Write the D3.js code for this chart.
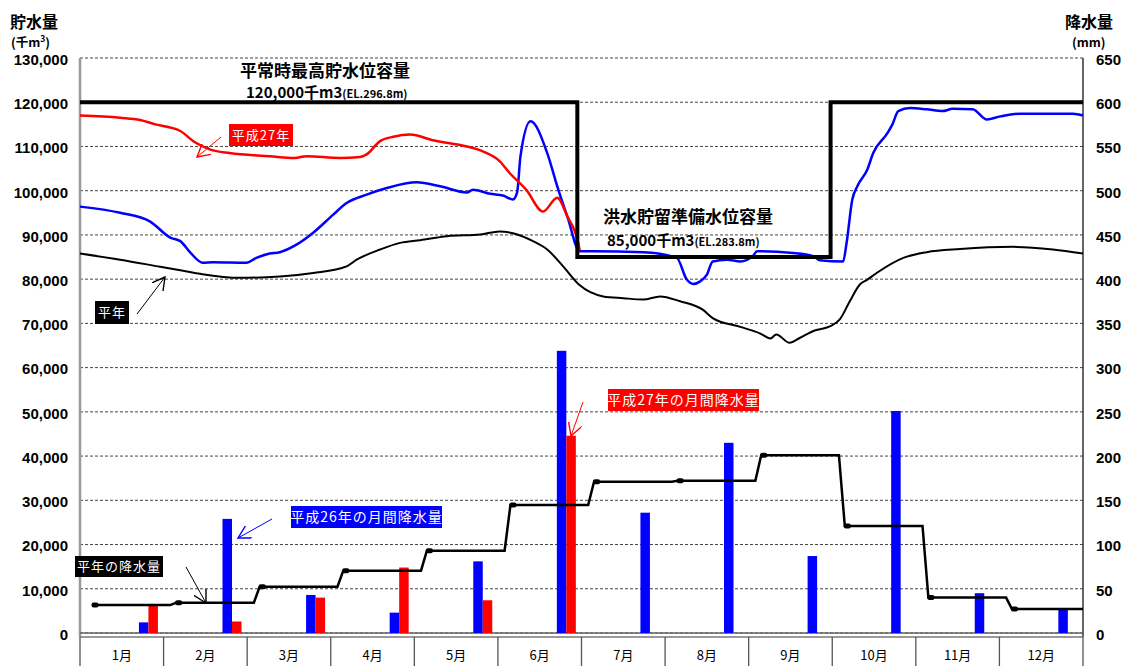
<!DOCTYPE html>
<html><head><meta charset="utf-8">
<script src="https://cdn.jsdelivr.net/npm/d3@7"></script>
<style>
html,body{margin:0;padding:0;background:#fff;}
svg{display:block;font-family:"Liberation Sans","Noto Sans CJK JP",sans-serif;}
.jp{font-family:"Noto Sans CJK JP","Liberation Sans",sans-serif;}
</style></head>
<body>
<svg id="c" width="1126" height="666"></svg>
<script>
// ---------- DATA ----------
const months = ["1月","2月","3月","4月","5月","6月","7月","8月","9月","10月","11月","12月"];
const storageTicks = [0,10000,20000,30000,40000,50000,60000,70000,80000,90000,100000,110000,120000,130000];
const rainTicks = [0,50,100,150,200,250,300,350,400,450,500,550,600,650];

// positions along the year in month units (0 = 1 Jan, 12 = 31 Dec)
const h27StorageT = [0,0.48,0.72,0.90,1.08,1.20,1.37,1.56,1.79,2.27,2.57,2.71,3.11,3.35,3.43,3.59,3.75,3.95,4.22,4.63,4.82,5.02,5.14,5.34,5.54,5.71,5.83,5.96,5.98];
const h27StorageV = [117000,116500,116000,115000,114300,113500,111000,109300,108500,107800,107400,107800,107400,107600,108200,111200,112200,112700,111400,110000,108900,106700,104000,100200,95300,98400,94200,88300,86500];

const h26StorageT = [0,0.48,0.84,1.08,1.20,1.32,1.47,1.59,1.99,2.11,2.27,2.39,2.59,2.79,3.03,3.19,3.43,3.67,4.03,4.31,4.63,4.70,4.91,5.06,5.18,5.23,5.27,5.39,5.59,5.71,5.83,5.98,6.14,6.74,7.14,7.26,7.34,7.42,7.50,7.57,7.74,7.90,8.05,8.10,8.53,8.77,8.85,9.13,9.17,9.24,9.30,9.42,9.49,9.66,9.72,9.79,9.93,10.13,10.32,10.44,10.68,10.85,11.01,11.25,11.88,12];
const h26StorageV = [96400,95000,93000,89400,88600,86000,83700,83800,83700,84800,85800,86100,87800,90500,94600,97200,99100,100600,101900,101000,99600,100200,99300,98900,98000,99600,107800,115700,108500,101000,94200,86300,86300,86100,84800,79900,78900,79500,81000,84000,84400,84000,85200,86300,85900,85200,84300,84000,88000,98000,101000,104800,108500,113000,115000,118000,118700,118400,118000,118500,118400,116100,116800,117400,117400,117000];

const normalStorageT = [0,0.48,0.96,1.20,1.44,1.91,2.39,2.79,3.19,3.31,3.59,3.83,4.07,4.39,4.79,5.02,5.18,5.42,5.59,5.78,5.98,6.26,6.50,6.74,6.94,7.18,7.45,7.57,7.90,8.14,8.26,8.33,8.49,8.61,8.79,8.97,9.09,9.21,9.33,9.42,9.54,9.85,10.13,10.53,11.16,11.64,12];
const normalStorageV = [85800,84400,82800,82000,81200,80300,80600,81400,82900,84400,86700,88200,88800,89700,90100,90800,90400,88600,86700,82900,78600,76100,75700,75400,76100,75000,73100,71200,69200,67700,66600,67500,65600,66700,68400,69300,70900,75000,78800,79900,81500,84800,86100,86800,87300,86700,85800];

const floodCapT = [0,5.95,5.95,8.98,8.98,12];
const floodCapV = [120000,120000,85000,85000,120000,120000];

const h26Rain = [12,129,43,23,81,319,136,215,87,251,45,27];
const h27Rain = [31,13,40,74,37,223];
const normalRain = [31.6,34.3,52.4,70.5,93,144.7,171,172,201,121,40,27];

// ---------- LAYOUT ----------
const svg = d3.select("#c");
const L = 80, R = 1083, T = 58, B = 633;
const x = d3.scaleLinear().domain([0,12]).range([L,R]);
const yL = d3.scaleLinear().domain([0,130000]).range([B,T]);
const yR = d3.scaleLinear().domain([0,650]).range([B,T]);

// grid
svg.append("g").selectAll("line").data(storageTicks).join("line")
  .attr("x1",L).attr("x2",R).attr("y1",d=>yL(d)).attr("y2",d=>yL(d))
  .attr("stroke","#444").attr("stroke-width",1).attr("stroke-dasharray","3,2");

// axes lines
svg.append("line").attr("x1",L).attr("x2",L).attr("y1",T).attr("y2",B+4)
  .attr("stroke","#999").attr("stroke-width",2.5);
svg.append("line").attr("x1",R).attr("x2",R).attr("y1",T).attr("y2",B+4)
  .attr("stroke","#333").attr("stroke-width",1.5);
svg.append("line").attr("x1",L).attr("x2",R).attr("y1",B).attr("y2",B)
  .attr("stroke","#666").attr("stroke-width",1.5);

// axis labels via d3 axes
const axL = svg.append("g").attr("transform",`translate(${L},0)`)
  .call(d3.axisLeft(yL).tickValues(storageTicks).tickFormat(d3.format(",")).tickSize(0).tickPadding(12));
axL.select(".domain").remove();
axL.selectAll("text").attr("font-size",15).attr("font-weight","bold").attr("fill","#000")
  .attr("font-family","Liberation Sans").attr("dy","0.42em");
const axR = svg.append("g").attr("transform",`translate(${R},0)`)
  .call(d3.axisRight(yR).tickValues(rainTicks).tickSize(0).tickPadding(13));
axR.select(".domain").remove();
axR.selectAll("text").attr("font-size",15).attr("font-weight","bold").attr("fill","#000")
  .attr("font-family","Liberation Sans").attr("dy","0.42em");

// month table
const tableTop = 637;
svg.append("line").attr("x1",L).attr("x2",R).attr("y1",tableTop).attr("y2",tableTop)
  .attr("stroke","#777").attr("stroke-width",1.5);
svg.append("g").selectAll("line").data(d3.range(13)).join("line")
  .attr("x1",d=>x(d)).attr("x2",d=>x(d)).attr("y1",tableTop).attr("y2",666)
  .attr("stroke","#555").attr("stroke-width",1.3);
svg.append("g").selectAll("text").data(months).join("text")
  .attr("class","jp").attr("x",(d,i)=>x(i+0.5)).attr("y",660).attr("text-anchor","middle")
  .attr("font-size",13).attr("fill","#000").text(d=>d);

// bars
const bw = 9.5;
svg.append("g").selectAll("rect").data(h26Rain).join("rect")
  .attr("x",(d,i)=>x(i+0.705)).attr("width",bw)
  .attr("y",d=>yR(d)).attr("height",d=>B-yR(d)).attr("fill","#0000ff");
svg.append("g").selectAll("rect").data(h27Rain).join("rect")
  .attr("x",(d,i)=>x(i+0.705)+bw).attr("width",bw)
  .attr("y",d=>yR(d)).attr("height",d=>B-yR(d)).attr("fill","#ff0000");

// normal rainfall step line
const nrPts = [];
normalRain.forEach((v,i)=>{
  nrPts.push([i+0.15,v]);
  nrPts.push([i===11?12:i+1.08,v]);
});
svg.append("path").datum(nrPts)
  .attr("d",d3.line().x(d=>x(d[0])).y(d=>yR(d[1])))
  .attr("fill","none").attr("stroke","#000").attr("stroke-width",2.5);
svg.append("g").selectAll("rect").data(normalRain).join("rect")
  .attr("x",(d,i)=>x(i+0.15)-1).attr("y",d=>yR(d)-2.5).attr("width",7).attr("height",5)
  .attr("rx",2).attr("fill","#000");

// storage lines
const line = d3.line().x(d=>x(d[0])).y(d=>yL(d[1])).curve(d3.curveMonotoneX);
const lineStep = d3.line().x(d=>x(d[0])).y(d=>yL(d[1]));
const zipP = (t,v)=>t.map((tt,i)=>[tt,v[i]]);
svg.append("path").datum(zipP(normalStorageT,normalStorageV)).attr("d",line)
  .attr("fill","none").attr("stroke","#000").attr("stroke-width",2);
svg.append("path").datum(zipP(h26StorageT,h26StorageV)).attr("d",line)
  .attr("fill","none").attr("stroke","#0000ff").attr("stroke-width",2.5);
svg.append("path").datum(zipP(h27StorageT,h27StorageV)).attr("d",line)
  .attr("fill","none").attr("stroke","#ff0000").attr("stroke-width",2.5);
svg.append("path").datum(zipP(floodCapT,floodCapV)).attr("d",lineStep)
  .attr("fill","none").attr("stroke","#000").attr("stroke-width",4);

// titles
function t(xx,yy,str,size,opts={}){
  const e = svg.append("text").attr("class","jp").attr("x",xx).attr("y",yy)
    .attr("font-size",size).attr("fill",opts.fill||"#000")
    .attr("font-weight",opts.bold?"bold":"normal")
    .attr("text-anchor",opts.anchor||"start").text(str);
  return e;
}
t(10,28,"貯水量",16,{bold:true});
const u = svg.append("text").attr("class","jp").attr("x",11).attr("y",47).attr("font-size",12.5).attr("font-weight","bold");
u.append("tspan").text("(千m");
u.append("tspan").attr("font-size",8.5).attr("dy",-5).text("3");
u.append("tspan").attr("dy",5).text(")");
t(1065,28,"降水量",16,{bold:true});
t(1072,47,"(mm)",12.5,{bold:true});

t(325,77,"平常時最高貯水位容量",17,{bold:true,anchor:"middle"});
const c1 = svg.append("text").attr("class","jp").attr("x",246).attr("y",98).attr("font-weight","bold");
c1.append("tspan").attr("font-size",15).text("120,000千m3");
c1.append("tspan").attr("font-size",11).text("(EL.296.8m)");
t(688,223,"洪水貯留準備水位容量",17,{bold:true,anchor:"middle"});
const c2 = svg.append("text").attr("class","jp").attr("x",607).attr("y",246).attr("font-weight","bold");
c2.append("tspan").attr("font-size",15).text("85,000千m3");
c2.append("tspan").attr("font-size",11).text("(EL.283.8m)");

// annotations
const defs = svg.append("defs");
function marker(id,color){
  defs.append("marker").attr("id",id).attr("viewBox","0 0 10 10").attr("refX",9).attr("refY",5)
    .attr("markerWidth",14).attr("markerHeight",14).attr("markerUnits","userSpaceOnUse").attr("orient","auto")
    .append("path").attr("d","M0,0 L9,5 L0,10").attr("fill","none").attr("stroke",color).attr("stroke-width",1);
}
marker("aR","#ff0000"); marker("aB","#0000ff"); marker("aK","#000");
function label(x0,y0,w,h,str,bg,size){
  svg.append("rect").attr("x",x0).attr("y",y0).attr("width",w).attr("height",h).attr("fill",bg);
  svg.append("text").attr("class","jp").attr("x",x0+w/2).attr("y",y0+h/2).attr("dy","0.36em")
    .attr("text-anchor","middle").attr("font-size",size).attr("fill","#fff")
    .attr("letter-spacing",1).text(str);
}
function arrow(x1,y1,x2,y2,col,id){
  svg.append("line").attr("x1",x1).attr("y1",y1).attr("x2",x2).attr("y2",y2)
    .attr("stroke",col).attr("stroke-width",1).attr("marker-end",`url(#${id})`);
}
label(229,124,64,22,"平成27年","#ff0000",13);
arrow(221,137,197,157,"#ff0000","aR");
label(95,301,34,23,"平年","#000",13);
arrow(137,314,165,277,"#000","aK");
label(75,556,88,21,"平年の降水量","#000",13);
arrow(186,567,206,603,"#000","aK");
label(291,506,151,22,"平成26年の月間降水量","#0000ff",14);
arrow(272,519,238,538,"#0000ff","aB");
label(608,389,151,22,"平成27年の月間降水量","#ff0000",14);
arrow(583,402,571,436,"#ff0000","aR");
</script>
</body></html>
